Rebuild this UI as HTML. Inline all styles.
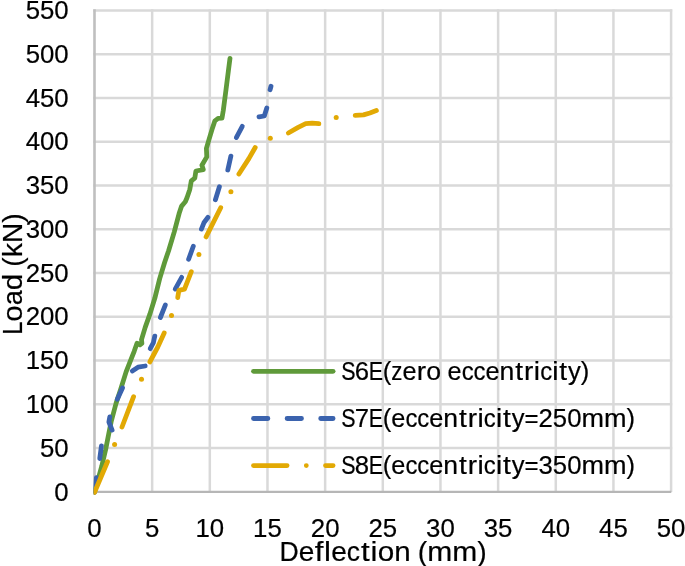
<!DOCTYPE html>
<html lang="en">
<head>
<meta charset="utf-8">
<title>Load-deflection chart</title>
<style>
html,body{margin:0;padding:0;background:#fff;}
body{width:685px;height:566px;overflow:hidden;}
svg{display:block;will-change:transform;}
text{font-family:"Liberation Sans", sans-serif;fill:#000;stroke:#000;stroke-width:0.2px;}
.tick{font-size:25.5px;}
.title{font-size:28.4px;}
.leg{font-size:25.5px;}
.ln{fill:none;stroke-width:4.8;stroke-linecap:round;stroke-linejoin:round;}
</style>
</head>
<body>
<svg width="685" height="566" viewBox="0 0 685 566">
<rect width="685" height="566" fill="#fff"/>
<g stroke="#d9d9d9" stroke-width="2.5" fill="none">
<line x1="93.30" y1="448.05" x2="672.20" y2="448.05"/>
<line x1="93.30" y1="404.29" x2="672.20" y2="404.29"/>
<line x1="93.30" y1="360.54" x2="672.20" y2="360.54"/>
<line x1="93.30" y1="316.78" x2="672.20" y2="316.78"/>
<line x1="93.30" y1="273.03" x2="672.20" y2="273.03"/>
<line x1="93.30" y1="229.27" x2="672.20" y2="229.27"/>
<line x1="93.30" y1="185.52" x2="672.20" y2="185.52"/>
<line x1="93.30" y1="141.76" x2="672.20" y2="141.76"/>
<line x1="93.30" y1="98.01" x2="672.20" y2="98.01"/>
<line x1="93.30" y1="54.25" x2="672.20" y2="54.25"/>
<line x1="93.30" y1="10.50" x2="672.20" y2="10.50"/>
<line x1="152.16" y1="9.30" x2="152.16" y2="492.00"/>
<line x1="209.82" y1="9.30" x2="209.82" y2="492.00"/>
<line x1="267.48" y1="9.30" x2="267.48" y2="492.00"/>
<line x1="325.14" y1="9.30" x2="325.14" y2="492.00"/>
<line x1="382.80" y1="9.30" x2="382.80" y2="492.00"/>
<line x1="440.46" y1="9.30" x2="440.46" y2="492.00"/>
<line x1="498.12" y1="9.30" x2="498.12" y2="492.00"/>
<line x1="555.78" y1="9.30" x2="555.78" y2="492.00"/>
<line x1="613.44" y1="9.30" x2="613.44" y2="492.00"/>
<line x1="671.10" y1="9.30" x2="671.10" y2="492.00"/>
</g>
<g stroke="#bfbfbf" fill="none">
<line x1="94.50" y1="9.30" x2="94.50" y2="492.80" stroke-width="2.6"/>
<line x1="93.20" y1="491.80" x2="671.30" y2="491.80" stroke-width="2.2" stroke="#b6b6b6"/>
</g>
<g class="tick" text-anchor="end">
<text x="68.70" y="500.50" textLength="14.35" lengthAdjust="spacingAndGlyphs">0</text>
<text x="68.70" y="456.75" textLength="28.70" lengthAdjust="spacingAndGlyphs">50</text>
<text x="68.70" y="412.99" textLength="43.04" lengthAdjust="spacingAndGlyphs">100</text>
<text x="68.70" y="369.24" textLength="43.04" lengthAdjust="spacingAndGlyphs">150</text>
<text x="68.70" y="325.48" textLength="43.04" lengthAdjust="spacingAndGlyphs">200</text>
<text x="68.70" y="281.73" textLength="43.04" lengthAdjust="spacingAndGlyphs">250</text>
<text x="68.70" y="237.97" textLength="43.04" lengthAdjust="spacingAndGlyphs">300</text>
<text x="68.70" y="194.22" textLength="43.04" lengthAdjust="spacingAndGlyphs">350</text>
<text x="68.70" y="150.46" textLength="43.04" lengthAdjust="spacingAndGlyphs">400</text>
<text x="68.70" y="106.71" textLength="43.04" lengthAdjust="spacingAndGlyphs">450</text>
<text x="68.70" y="62.95" textLength="43.04" lengthAdjust="spacingAndGlyphs">500</text>
<text x="68.70" y="19.20" textLength="43.04" lengthAdjust="spacingAndGlyphs">550</text>
</g>
<g class="tick" text-anchor="middle">
<text x="94.50" y="537.10" textLength="14.35" lengthAdjust="spacingAndGlyphs">0</text>
<text x="152.16" y="537.10" textLength="14.35" lengthAdjust="spacingAndGlyphs">5</text>
<text x="209.82" y="537.10" textLength="28.70" lengthAdjust="spacingAndGlyphs">10</text>
<text x="267.48" y="537.10" textLength="28.70" lengthAdjust="spacingAndGlyphs">15</text>
<text x="325.14" y="537.10" textLength="28.70" lengthAdjust="spacingAndGlyphs">20</text>
<text x="382.80" y="537.10" textLength="28.70" lengthAdjust="spacingAndGlyphs">25</text>
<text x="440.46" y="537.10" textLength="28.70" lengthAdjust="spacingAndGlyphs">30</text>
<text x="498.12" y="537.10" textLength="28.70" lengthAdjust="spacingAndGlyphs">35</text>
<text x="555.78" y="537.10" textLength="28.70" lengthAdjust="spacingAndGlyphs">40</text>
<text x="613.44" y="537.10" textLength="28.70" lengthAdjust="spacingAndGlyphs">45</text>
<text x="671.10" y="537.10" textLength="28.70" lengthAdjust="spacingAndGlyphs">50</text>
</g>
<text class="title" y="560.60"><tspan x="279.60" textLength="19.25" lengthAdjust="spacingAndGlyphs">D</tspan><tspan x="298.85" textLength="15.59" lengthAdjust="spacingAndGlyphs">e</tspan><tspan x="314.87" textLength="8.68" lengthAdjust="spacingAndGlyphs">f</tspan><tspan x="324.12" textLength="6.94" lengthAdjust="spacingAndGlyphs">l</tspan><tspan x="331.18" textLength="15.59" lengthAdjust="spacingAndGlyphs">e</tspan><tspan x="346.77" textLength="13.24" lengthAdjust="spacingAndGlyphs">c</tspan><tspan x="360.91" textLength="8.68" lengthAdjust="spacingAndGlyphs">t</tspan><tspan x="370.63" textLength="6.94" lengthAdjust="spacingAndGlyphs">i</tspan><tspan x="377.69" textLength="16.50" lengthAdjust="spacingAndGlyphs">o</tspan><tspan x="394.19" textLength="16.43" lengthAdjust="spacingAndGlyphs">n</tspan> <tspan x="417.70" textLength="9.48" lengthAdjust="spacingAndGlyphs">(</tspan><tspan x="427.18" textLength="25.01" lengthAdjust="spacingAndGlyphs">m</tspan><tspan x="452.19" textLength="25.01" lengthAdjust="spacingAndGlyphs">m</tspan><tspan x="477.20" textLength="9.48" lengthAdjust="spacingAndGlyphs">)</tspan></text>
<text class="title" transform="translate(21.60 334.80) rotate(-90)" y="0"><tspan x="-0.06" textLength="13.26" lengthAdjust="spacingAndGlyphs">L</tspan><tspan x="13.15" textLength="16.50" lengthAdjust="spacingAndGlyphs">o</tspan><tspan x="29.64" textLength="14.99" lengthAdjust="spacingAndGlyphs">a</tspan><tspan x="44.63" textLength="16.43" lengthAdjust="spacingAndGlyphs">d</tspan> <tspan x="68.14" textLength="9.48" lengthAdjust="spacingAndGlyphs">(</tspan><tspan x="77.62" textLength="14.24" lengthAdjust="spacingAndGlyphs">k</tspan><tspan x="91.87" textLength="20.22" lengthAdjust="spacingAndGlyphs">N</tspan><tspan x="112.09" textLength="9.48" lengthAdjust="spacingAndGlyphs">)</tspan></text>
<clipPath id="plotclip"><rect x="93.6" y="0" width="600" height="566"/></clipPath>
<g clip-path="url(#plotclip)">
<polyline class="ln" stroke="#5f9a3a" stroke-width="5" points="94.50,492.20 101.70,466.50 105.60,449.80 111.10,422.00 116.00,403.50 120.60,389.50 126.10,371.90 132.40,355.90 134.20,351.30 137.00,343.20 140.00,344.80 141.90,343.40 141.50,339.60 145.20,327.40 149.80,314.40 154.80,298.30 159.70,278.60 164.60,262.50 168.60,250.70 174.20,232.10 179.10,213.60 181.60,206.10 185.30,201.80 187.00,197.80 189.80,189.40 191.30,180.90 194.80,178.10 195.90,171.00 203.30,169.60 201.90,165.30 206.80,156.90 206.40,148.40 208.90,139.90 212.50,127.90 214.90,120.80 218.10,118.40 222.00,118.10 223.30,110.40 226.00,89.75 228.40,70.70 230.00,58.30"/>
<g class="ln" stroke="#3b63ae" stroke-width="5">
<polyline points="94.50,492.20 96.40,477.60"/>
<polyline points="99.75,458.60 101.45,445.80"/>
<polyline points="112.10,430.10 108.90,422.00 109.80,416.90"/>
<polyline points="117.30,399.20 122.50,388.00"/>
<polyline points="132.30,371.00 138.00,367.20 145.20,366.00"/>
<polyline points="150.20,348.70 153.30,342.90 154.80,336.10"/>
<polyline points="160.40,317.50 165.30,305.10"/>
<polyline points="175.20,289.10 181.70,277.30"/>
<polyline points="188.60,259.30 193.30,246.30"/>
<polyline points="201.40,229.10 203.90,222.80 208.00,217.30"/>
<polyline points="215.40,199.80 219.40,186.70"/>
<polyline points="227.80,170.00 230.90,156.10"/>
<polyline points="236.30,137.60 242.30,126.30"/>
<polyline points="259.00,116.90 264.30,116.00 266.80,108.00"/>
<polyline points="270.05,89.75 271.00,86.25"/>
</g>
<g class="ln" stroke="#e2a904" stroke-width="5">
<polyline points="94.55,492.20 107.50,461.70"/>
<circle cx="114.60" cy="444.40" r="2.50" fill="#e2a904" stroke="none"/>
<polyline points="122.00,427.00 133.60,396.70"/>
<circle cx="141.50" cy="379.30" r="2.50" fill="#e2a904" stroke="none"/>
<polyline points="149.80,362.00 157.80,347.00 164.20,333.00"/>
<circle cx="171.50" cy="315.40" r="2.50" fill="#e2a904" stroke="none"/>
<polyline points="177.70,297.70 178.90,290.30 184.50,289.10 191.30,271.70"/>
<circle cx="198.90" cy="254.40" r="2.50" fill="#e2a904" stroke="none"/>
<polyline points="206.10,236.90 220.70,207.70"/>
<circle cx="230.90" cy="191.70" r="2.50" fill="#e2a904" stroke="none"/>
<polyline points="238.90,174.00 248.85,158.60 255.20,147.50"/>
<circle cx="270.30" cy="138.25" r="2.50" fill="#e2a904" stroke="none"/>
<polyline points="288.35,133.00 297.70,127.70 305.70,123.70 312.10,123.20 318.90,123.70"/>
<circle cx="336.20" cy="117.60" r="2.50" fill="#e2a904" stroke="none"/>
<polyline points="355.20,115.40 363.50,114.90 369.90,113.00 376.40,110.60"/>
</g>
</g>
<g class="ln">
<line x1="253.50" y1="371.30" x2="333.10" y2="371.30" stroke="#5f9a3a"/>
<line x1="253.50" y1="418.50" x2="333.10" y2="418.50" stroke="#3b63ae" stroke-dasharray="14.40 19.20"/>
<line x1="253.50" y1="465.60" x2="333.10" y2="465.60" stroke="#e2a904" stroke-dasharray="33.60 19.20 0.01 19.20"/>
</g>
<g class="leg">
<text y="379.70"><tspan x="341.13" textLength="14.29" lengthAdjust="spacingAndGlyphs">S</tspan><tspan x="354.74" textLength="14.30" lengthAdjust="spacingAndGlyphs">6</tspan><tspan x="368.78" textLength="14.29" lengthAdjust="spacingAndGlyphs">E</tspan><tspan x="382.80" textLength="8.54" lengthAdjust="spacingAndGlyphs">(</tspan><tspan x="391.35" textLength="11.14" lengthAdjust="spacingAndGlyphs">z</tspan><tspan x="402.49" textLength="14.04" lengthAdjust="spacingAndGlyphs">e</tspan><tspan x="416.78" textLength="9.34" lengthAdjust="spacingAndGlyphs">r</tspan><tspan x="426.37" textLength="14.86" lengthAdjust="spacingAndGlyphs">o</tspan> <tspan x="447.61" textLength="14.04" lengthAdjust="spacingAndGlyphs">e</tspan><tspan x="461.65" textLength="11.93" lengthAdjust="spacingAndGlyphs">c</tspan><tspan x="473.58" textLength="11.93" lengthAdjust="spacingAndGlyphs">c</tspan><tspan x="485.51" textLength="14.04" lengthAdjust="spacingAndGlyphs">e</tspan><tspan x="499.55" textLength="14.80" lengthAdjust="spacingAndGlyphs">n</tspan><tspan x="515.18" textLength="7.80" lengthAdjust="spacingAndGlyphs">t</tspan><tspan x="524.05" textLength="9.34" lengthAdjust="spacingAndGlyphs">r</tspan><tspan x="533.77" textLength="6.23" lengthAdjust="spacingAndGlyphs">i</tspan><tspan x="540.13" textLength="11.93" lengthAdjust="spacingAndGlyphs">c</tspan><tspan x="552.19" textLength="6.23" lengthAdjust="spacingAndGlyphs">i</tspan><tspan x="559.37" textLength="7.80" lengthAdjust="spacingAndGlyphs">t</tspan><tspan x="567.99" textLength="12.77" lengthAdjust="spacingAndGlyphs">y</tspan><tspan x="580.77" textLength="8.54" lengthAdjust="spacingAndGlyphs">)</tspan></text>
<text y="426.70"><tspan x="341.13" textLength="14.29" lengthAdjust="spacingAndGlyphs">S</tspan><tspan x="354.74" textLength="14.30" lengthAdjust="spacingAndGlyphs">7</tspan><tspan x="368.78" textLength="14.29" lengthAdjust="spacingAndGlyphs">E</tspan><tspan x="382.80" textLength="8.54" lengthAdjust="spacingAndGlyphs">(</tspan><tspan x="391.35" textLength="14.04" lengthAdjust="spacingAndGlyphs">e</tspan><tspan x="405.39" textLength="11.93" lengthAdjust="spacingAndGlyphs">c</tspan><tspan x="417.32" textLength="11.93" lengthAdjust="spacingAndGlyphs">c</tspan><tspan x="429.25" textLength="14.04" lengthAdjust="spacingAndGlyphs">e</tspan><tspan x="443.29" textLength="14.80" lengthAdjust="spacingAndGlyphs">n</tspan><tspan x="458.92" textLength="7.80" lengthAdjust="spacingAndGlyphs">t</tspan><tspan x="467.79" textLength="9.34" lengthAdjust="spacingAndGlyphs">r</tspan><tspan x="477.52" textLength="6.23" lengthAdjust="spacingAndGlyphs">i</tspan><tspan x="483.87" textLength="11.93" lengthAdjust="spacingAndGlyphs">c</tspan><tspan x="495.93" textLength="6.23" lengthAdjust="spacingAndGlyphs">i</tspan><tspan x="503.11" textLength="7.80" lengthAdjust="spacingAndGlyphs">t</tspan><tspan x="511.73" textLength="12.77" lengthAdjust="spacingAndGlyphs">y</tspan><tspan x="524.51" textLength="14.04" lengthAdjust="spacingAndGlyphs">=</tspan><tspan x="538.55" textLength="14.30" lengthAdjust="spacingAndGlyphs">2</tspan><tspan x="552.85" textLength="14.30" lengthAdjust="spacingAndGlyphs">5</tspan><tspan x="567.15" textLength="14.30" lengthAdjust="spacingAndGlyphs">0</tspan><tspan x="581.44" textLength="22.53" lengthAdjust="spacingAndGlyphs">m</tspan><tspan x="603.98" textLength="22.53" lengthAdjust="spacingAndGlyphs">m</tspan><tspan x="626.51" textLength="8.54" lengthAdjust="spacingAndGlyphs">)</tspan></text>
<text y="473.70"><tspan x="341.13" textLength="14.29" lengthAdjust="spacingAndGlyphs">S</tspan><tspan x="354.74" textLength="14.30" lengthAdjust="spacingAndGlyphs">8</tspan><tspan x="368.78" textLength="14.29" lengthAdjust="spacingAndGlyphs">E</tspan><tspan x="382.80" textLength="8.54" lengthAdjust="spacingAndGlyphs">(</tspan><tspan x="391.35" textLength="14.04" lengthAdjust="spacingAndGlyphs">e</tspan><tspan x="405.39" textLength="11.93" lengthAdjust="spacingAndGlyphs">c</tspan><tspan x="417.32" textLength="11.93" lengthAdjust="spacingAndGlyphs">c</tspan><tspan x="429.25" textLength="14.04" lengthAdjust="spacingAndGlyphs">e</tspan><tspan x="443.29" textLength="14.80" lengthAdjust="spacingAndGlyphs">n</tspan><tspan x="458.92" textLength="7.80" lengthAdjust="spacingAndGlyphs">t</tspan><tspan x="467.79" textLength="9.34" lengthAdjust="spacingAndGlyphs">r</tspan><tspan x="477.52" textLength="6.23" lengthAdjust="spacingAndGlyphs">i</tspan><tspan x="483.87" textLength="11.93" lengthAdjust="spacingAndGlyphs">c</tspan><tspan x="495.93" textLength="6.23" lengthAdjust="spacingAndGlyphs">i</tspan><tspan x="503.11" textLength="7.80" lengthAdjust="spacingAndGlyphs">t</tspan><tspan x="511.73" textLength="12.77" lengthAdjust="spacingAndGlyphs">y</tspan><tspan x="524.51" textLength="14.04" lengthAdjust="spacingAndGlyphs">=</tspan><tspan x="538.55" textLength="14.30" lengthAdjust="spacingAndGlyphs">3</tspan><tspan x="552.85" textLength="14.30" lengthAdjust="spacingAndGlyphs">5</tspan><tspan x="567.15" textLength="14.30" lengthAdjust="spacingAndGlyphs">0</tspan><tspan x="581.44" textLength="22.53" lengthAdjust="spacingAndGlyphs">m</tspan><tspan x="603.98" textLength="22.53" lengthAdjust="spacingAndGlyphs">m</tspan><tspan x="626.51" textLength="8.54" lengthAdjust="spacingAndGlyphs">)</tspan></text>
</g>
</svg>
</body>
</html>
